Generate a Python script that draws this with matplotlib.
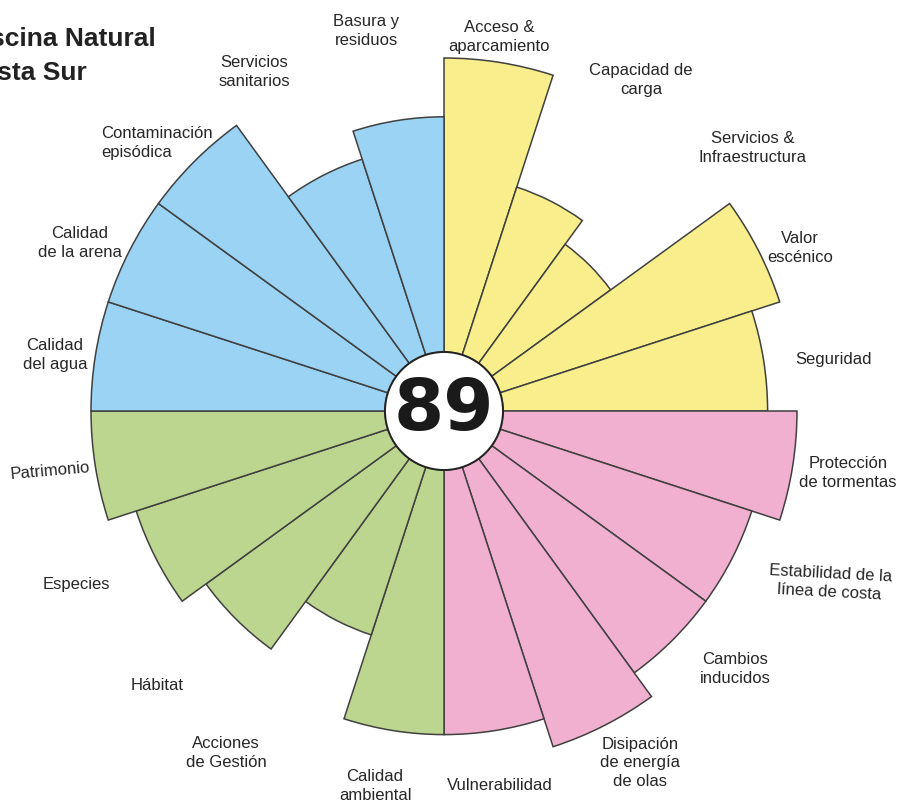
import numpy as np
import matplotlib
matplotlib.use("Agg")
import matplotlib.pyplot as plt
from matplotlib.patches import Circle

# ---------------- data ----------------
categories = [
    "Acceso &\naparcamiento", "Capacidad de\ncarga", "Servicios &\nInfraestructura",
    "Valor\nescénico", "Seguridad",
    "Protección\nde tormentas", "Estabilidad de la\nlínea de costa", "Cambios\ninducidos",
    "Disipación\nde energía\nde olas", "Vulnerabilidad",
    "Calidad\nambiental", "Acciones\nde Gestión", "Hábitat", "Especies", "Patrimonio",
    "Calidad\ndel agua", "Calidad\nde la arena", "Contaminación\nepisódica",
    "Servicios\nsanitarios", "Basura y\nresiduos",
]
values = [10, 6, 5, 10, 9,
          10, 9, 9, 10, 9,
          9, 6, 8, 9, 10,
          10, 10, 10, 7, 8]
groups = ["uso"] * 5 + ["riesgo"] * 5 + ["natural"] * 5 + ["calidad"] * 5
score = "89"
title_lines = ["Piscina Natural", "Costa Sur"]

# ---------------- styles / layout ----------------
group_colors = {"uso": "#F8EE8B", "riesgo": "#F2B0D0",
                "natural": "#BDD68F", "calidad": "#9AD3F3"}
edge = "#404040"
W, H = 900, 802
cx, cy = 444, 411          # centre of the rose in pixels
unit = 29.4                # pixels per score point
hole = 59 / unit           # white centre circle radius (in score units)
rmax = 13.0

# label centres (pixels), rotation, alignment
label_pos = [
    (499, 37, 0, "center"), (641, 80, 0, "center"), (753, 148, 0, "center"),
    (800, 248, 0, "center"), (834, 359, 0, "center"),
    (848, 473, 0, "center"), (830, 583, -3, "center"), (735, 669, 0, "center"),
    (640, 763, 0, "center"), (500, 786, 0, "center"),
    (375, 786, 0, "center"), (226, 753, 0, "center"), (157, 686, 0, "center"),
    (76, 585, 0, "center"), (50, 471, 5, "center"),
    (55, 355, 0, "center"), (80, 243, 0, "center"), (101, 143, 0, "left"),
    (254, 72, 0, "center"), (366, 31, 0, "center"),
]

fig = plt.figure(figsize=(W / 100, H / 100), dpi=100)
R = rmax * unit
ax = fig.add_axes([(cx - R) / W, (H - cy - R) / H, 2 * R / W, 2 * R / H],
                  projection="polar")
ax.set_theta_zero_location("N")
ax.set_theta_direction(-1)
ax.set_ylim(0, rmax)
ax.set_axis_off()

n = len(values)
width = 2 * np.pi / n
theta = np.arange(n) * width
ax.bar(theta, values, width=width, bottom=hole, align="edge",
       color=[group_colors[g] for g in groups], edgecolor=edge, linewidth=1.1,
       zorder=2)

circ = Circle((0.5, 0.5), 0.5 * hole / rmax, transform=ax.transAxes,
              facecolor="white", edgecolor="#222222", linewidth=1.4, zorder=5)
ax.add_patch(circ)
ax.text(0.5, 0.5, score, transform=ax.transAxes, ha="center", va="center",
        fontsize=52, fontweight="bold", family="DejaVu Sans", color="#1a1a1a",
        zorder=6)

for lab, (x, y, rot, ha) in zip(categories, label_pos):
    fig.text(x / W, 1 - y / H, lab, ha=ha, va="center", multialignment=ha,
             rotation=rot, rotation_mode="anchor", fontsize=12,
             family=["Liberation Sans", "DejaVu Sans"], color="#262626",
             linespacing=1.3)

fig.text(156 / W, 1 - 46 / H, title_lines[0], ha="right", va="baseline",
         fontsize=19, fontweight="bold", family="Liberation Sans", color="#222222")
fig.text(87 / W, 1 - 80 / H, title_lines[1], ha="right", va="baseline",
         fontsize=19, fontweight="bold", family="Liberation Sans", color="#222222")

fig.savefig("out.png", dpi=100, facecolor="white")
